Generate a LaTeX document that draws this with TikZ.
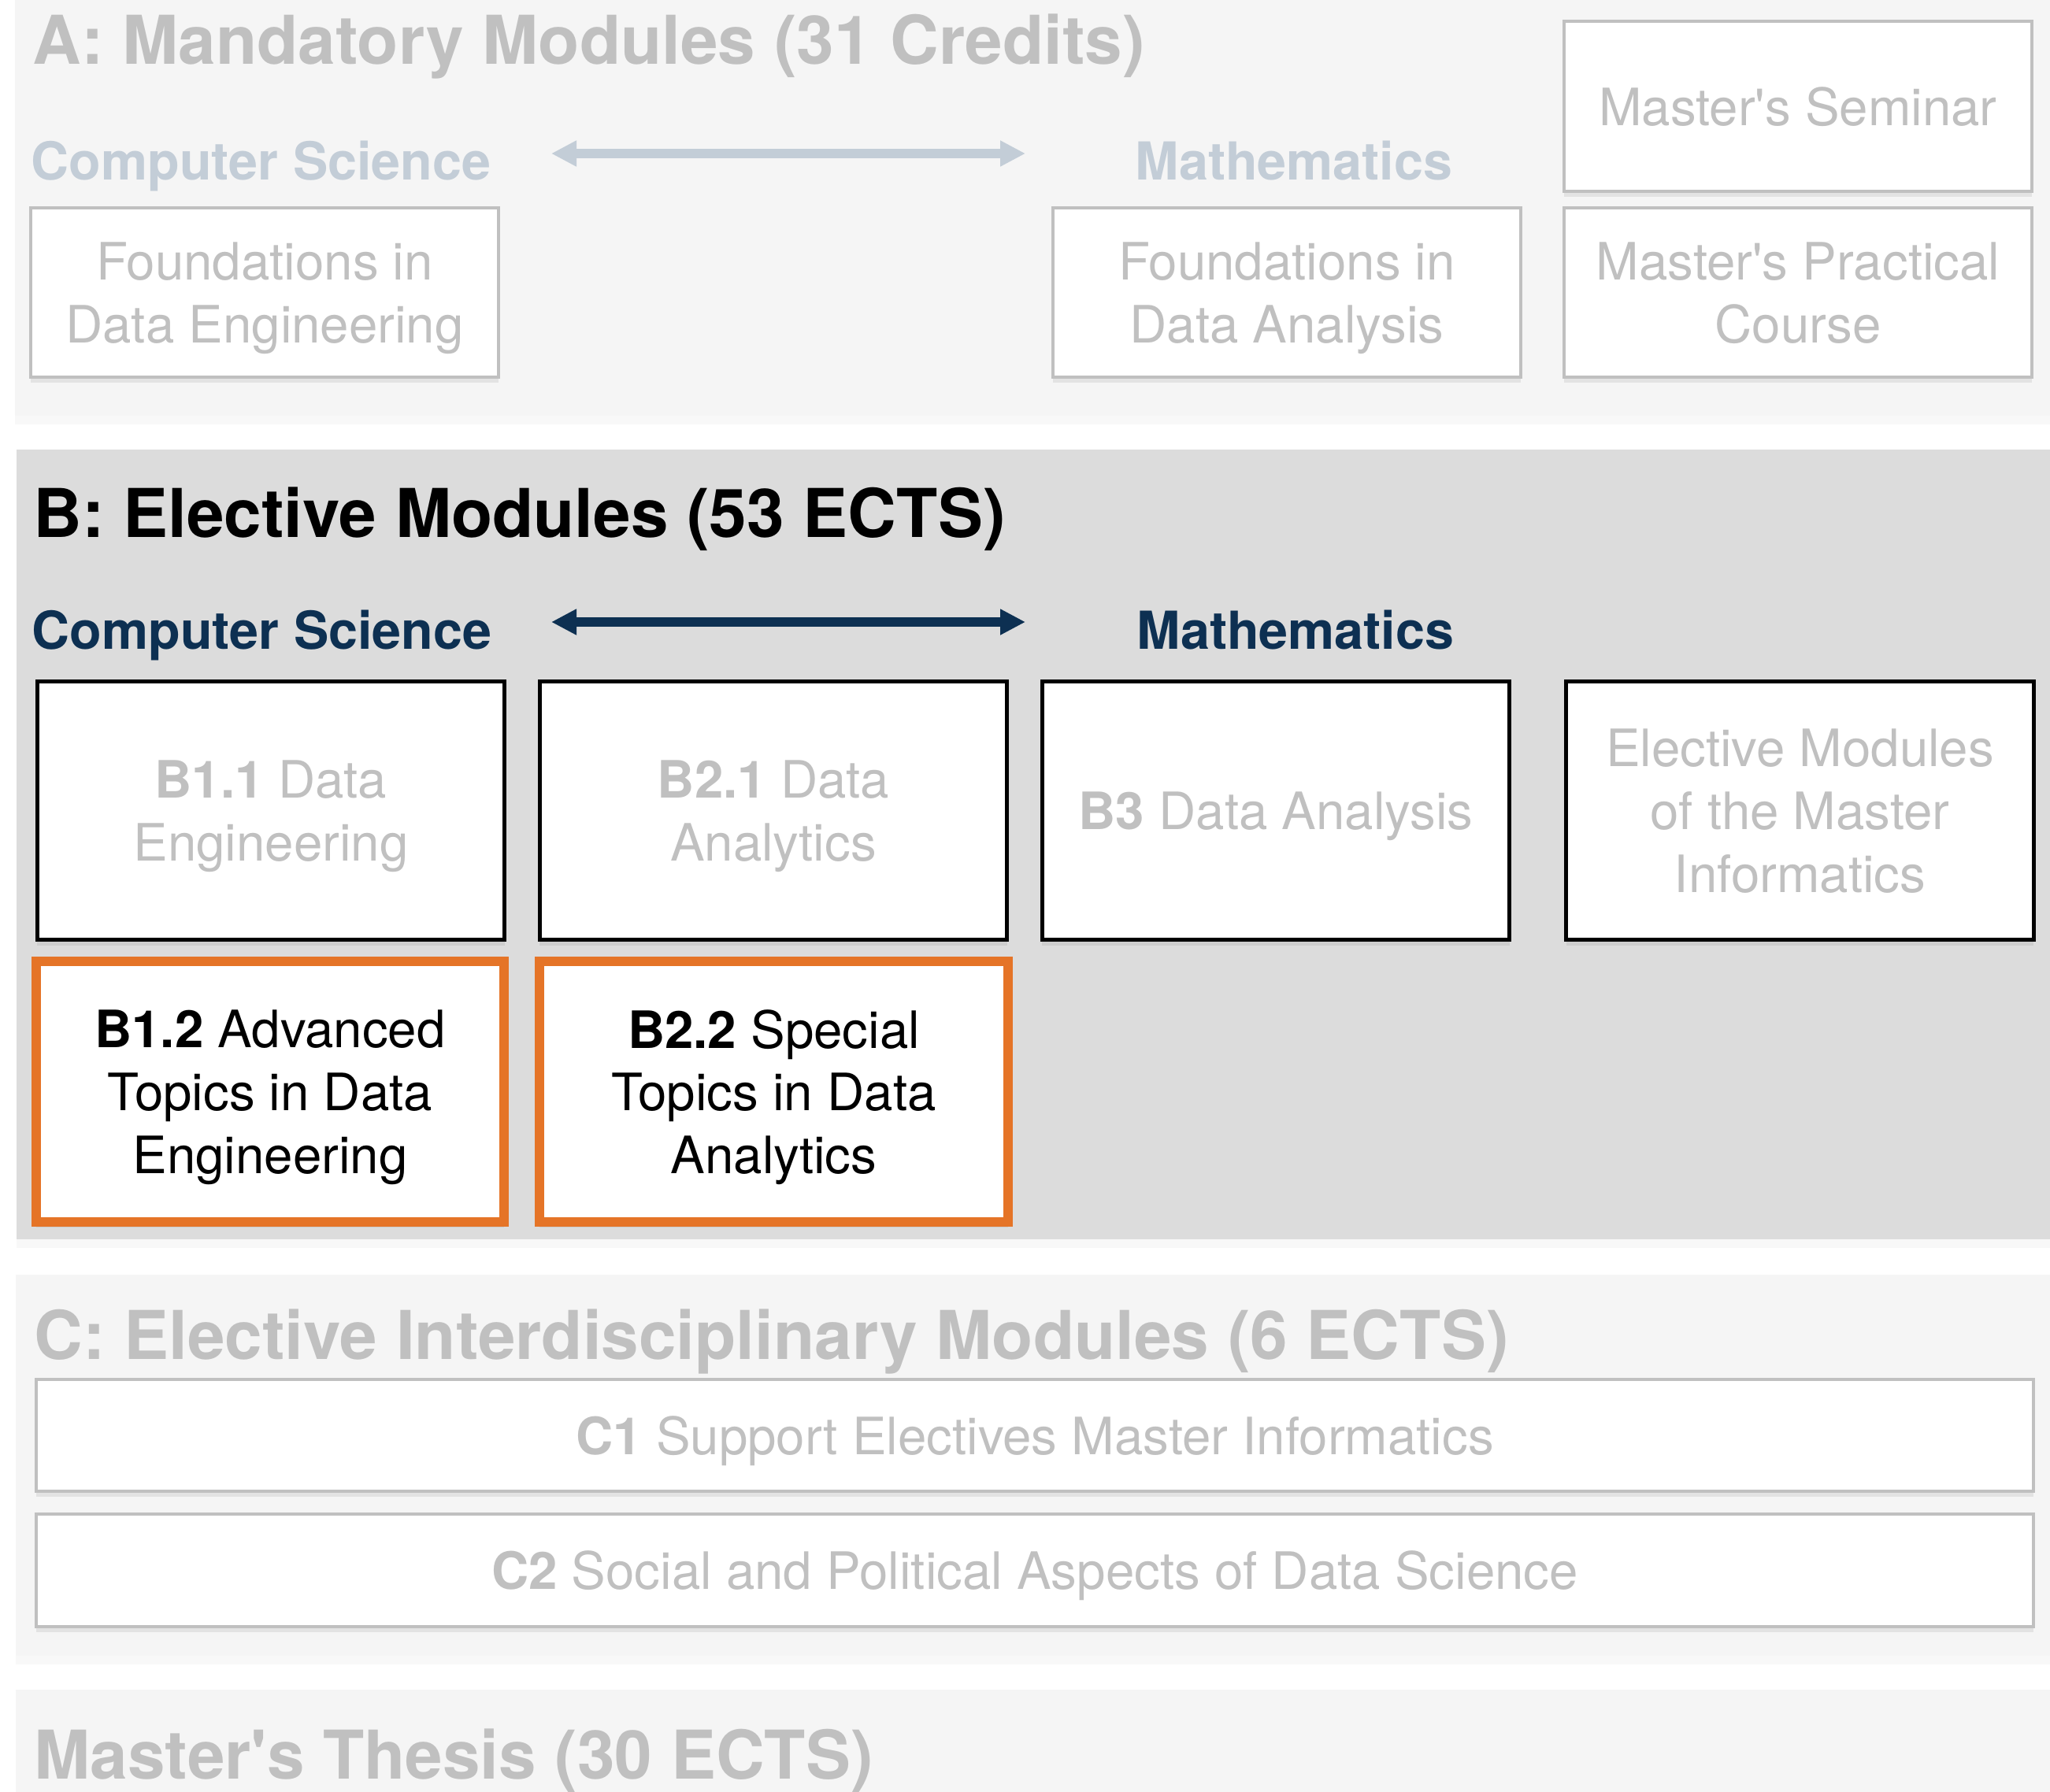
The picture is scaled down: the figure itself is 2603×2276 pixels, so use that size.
\documentclass[tikz,border=0pt]{standalone}
\usepackage{fontspec}
\setmainfont{TeX Gyre Heros}
\usetikzlibrary{arrows.meta,shadows}
\definecolor{panellight}{HTML}{F5F5F5}
\definecolor{paneldark}{HTML}{DCDCDC}
\definecolor{fadegray}{HTML}{C0C0C0}
\definecolor{fadeblue}{HTML}{C3CDD7}
\definecolor{navy}{HTML}{0D3052}
\definecolor{boxorange}{HTML}{E57427}
\begin{document}
\begin{tikzpicture}
[x=0.01cm,y=-0.01cm,
title/.style={anchor=base west,inner sep=0,font=\fontsize{24.3}{29}\selectfont\bfseries},
subhead/.style={anchor=base west,inner sep=0,font=\fontsize{18.9}{23}\selectfont\bfseries},
modbox/.style={draw,fill=white,align=center,inner sep=0,text depth=-1.2pt,
  font=\fontsize{18.6}{22.7}\selectfont,
  drop shadow={shadow xshift=0pt,shadow yshift=-2pt,opacity=.15}},
boxA/.style={modbox,draw=fadegray,text=fadegray,line width=1.1pt,
  minimum width=5.94cm,minimum height=2.15cm},
boxB/.style={modbox,draw=black,line width=1.4pt,text depth=-3pt,
  minimum width=5.93cm,minimum height=3.28cm},
boxBsel/.style={modbox,draw=boxorange,line width=3.4pt,text depth=-3pt,
  minimum width=5.94cm,minimum height=3.31cm},
boxC/.style={modbox,draw=fadegray,text=fadegray,line width=1.1pt,text depth=-3pt,
  minimum width=25.34cm,minimum height=1.42cm},
link/.style={{Triangle[length=9.1pt,width=8.8pt]}-{Triangle[length=9.1pt,width=8.8pt]},
  line width=3.4pt},
panelshadow/.style={drop shadow={shadow xshift=0pt,shadow yshift=-3pt,opacity=.06}}]
\useasboundingbox (0,0) rectangle (2603,2276);
\fill[panellight,panelshadow] (19,-20) rectangle (2620,528);
\fill[paneldark,panelshadow] (21,571) rectangle (2620,1574);
\fill[panellight,panelshadow] (20,1619) rectangle (2620,2103);
\fill[panellight,panelshadow] (20,2146) rectangle (2620,2300);

\node[title,text=fadegray] (titleA) at (41,82) {A: Mandatory Modules (31 Credits)};
\node[subhead,text=fadeblue] (csA) at (39,229) {Computer Science};
\node[subhead,text=fadeblue] (mathA) at (1441,229) {Mathematics};
\coordinate (arrA1) at (700,195);
\coordinate (arrA2) at (1302,195);
\draw[link,fadeblue] (arrA1) -- (arrA2);
\node[boxA] (fde) at (336,371.5) {Foundations in\\Data Engineering};
\node[boxA] (fda) at (1634,371.5) {Foundations in\\Data Analysis};
\node[boxA,minimum height=2.16cm] (seminar) at (2283,135) {Master\textquotesingle s Seminar};
\node[boxA] (practical) at (2283,371.5) {Master\textquotesingle s Practical\\Course};

\node[title] (titleB) at (42,682) {B: Elective Modules (53 ECTS)};
\node[subhead,text=navy] (csB) at (40,824) {Computer Science};
\node[subhead,text=navy] (mathB) at (1443,824) {Mathematics};
\coordinate (arrB1) at (700,790);
\coordinate (arrB2) at (1302,790);
\draw[link,navy] (arrB1) -- (arrB2);
\node[boxB,text=fadegray] (b11) at (344,1029.5) {\textbf{B1.1} Data\\Engineering};
\node[boxB,text=fadegray] (b21) at (982,1029.5) {\textbf{B2.1} Data\\Analytics};
\node[boxB,text=fadegray] (b3) at (1620,1029.5) {\textbf{B3} Data Analysis};
\node[boxB,text=fadegray] (elective) at (2285.5,1029.5) {Elective Modules\\of the Master\\Informatics};
\node[boxBsel] (b12) at (343,1386.5) {\textbf{B1.2} Advanced\\Topics in Data\\Engineering};
\node[boxBsel] (b22) at (982.5,1386.5) {\textbf{B2.2} Special\\Topics in Data\\Analytics};

\node[title,text=fadegray] (titleC) at (43,1726) {C: Elective Interdisciplinary Modules (6 ECTS)};
\node[boxC] (c1) at (1314,1823) {\textbf{C1} Support Electives Master Informatics};
\node[boxC,minimum height=1.43cm] (c2) at (1314,1994.5) {\textbf{C2} Social and Political Aspects of Data Science};

\node[title,text=fadegray] (thesis) at (43,2259) {Master\textquotesingle s Thesis (30 ECTS)};
%\draw[step=100,very thin] (0,0) grid (2603,2276);
\end{tikzpicture}
\end{document}
